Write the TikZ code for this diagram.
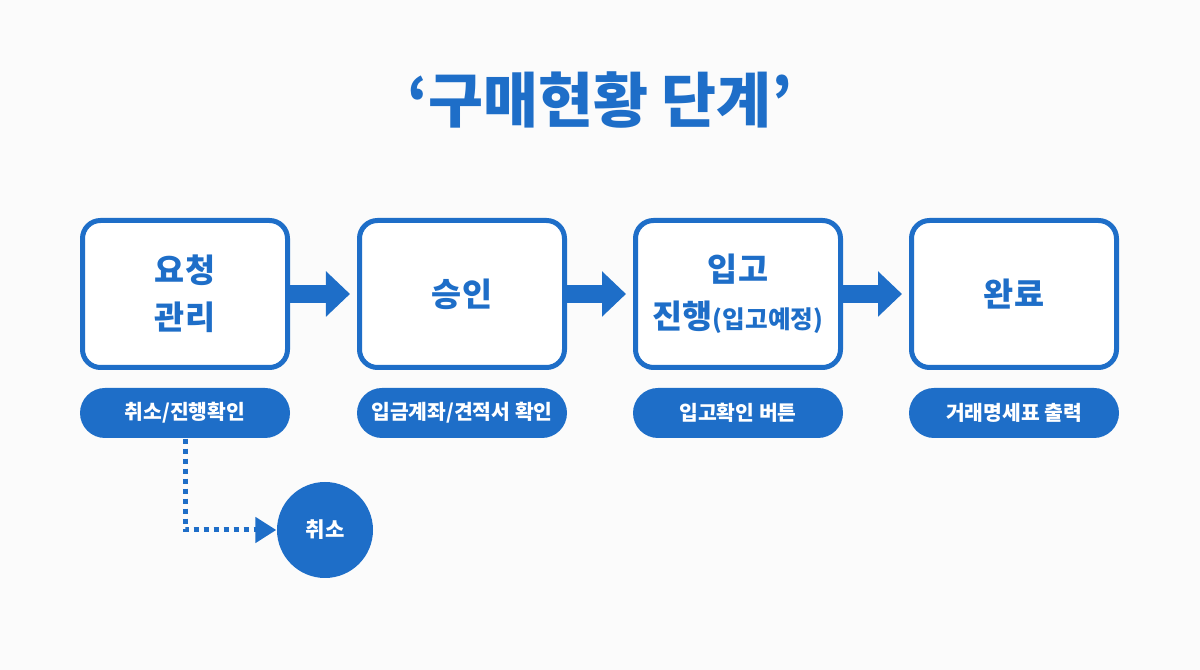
\documentclass[tikz,border=0pt]{standalone}
\usepackage{fontspec}
\newfontfamily\kr{Noto Sans CJK KR}
\usetikzlibrary{arrows.meta, positioning}
\definecolor{flowblue}{RGB}{30,110,200}
\definecolor{paper}{RGB}{251,251,251}

\begin{document}
\begin{tikzpicture}[>=latex, font=\kr\bfseries]
				\tikzstyle{stage} = [draw=flowblue, line width=0.05cm, fill=white, rounded corners=0.18cm, minimum width=2.05cm, minimum height=1.47cm, align=center, text=flowblue, font=\kr\bfseries\fontsize{9.3}{13.5}\selectfont]
				\tikzstyle{pill} = [fill=flowblue, rounded corners=0.25cm, minimum width=2.1cm, minimum height=0.5cm, text=white, font=\kr\bfseries\fontsize{5.8}{7}\selectfont]
				\tikzstyle{cancel} = [fill=flowblue, circle, minimum size=0.96cm, inner sep=0pt, text=white, font=\kr\bfseries\fontsize{6}{7}\selectfont]
				\tikzstyle{flow} = [color=flowblue, line width=0.18cm, -{Triangle[width=0.44cm, length=0.24cm]}, shorten >=0.07cm]
				\tikzstyle{dots} = [color=flowblue, line width=0.05cm, dash pattern=on 0.055cm off 0.045cm, -{Triangle[width=0.25cm, length=0.21cm]}]
				
				\fill[paper] (0, 0) rectangle (12, 6.7);
				\useasboundingbox (0, 0) rectangle (12, 6.7);
				
				\node[text=flowblue, font=\kr\bfseries\fontsize{17}{20}\selectfont] at (6.0, 5.7) (title) {‘구매현황 단계’};
				
				\node[stage] 	at (1.85, 3.76) 	(s1) 	{요청\\관리};
				\node[stage] 	at (4.62, 3.76)		(s2) 	{승인};
				\node[stage] 	at (7.38, 3.76) 	(s3) 	{입고\\진행{\fontsize{7}{13.5}\selectfont(입고예정)}};
				\node[stage] 	at (10.14, 3.76) 	(s4) 	{완료};
				
				\node[pill] 	at (1.85, 2.57) 	(p1) 	{취소/진행확인};
				\node[pill] 	at (4.62, 2.57) 	(p2) 	{입금계좌/견적서 확인};
				\node[pill] 	at (7.38, 2.57) 	(p3) 	{입고확인 버튼};
				\node[pill] 	at (10.14, 2.57) 	(p4) 	{거래명세표 출력};
				
				\node[cancel] 	at (3.25, 1.4) 		(c1) 	{취소};
				
				\path[flow]
				(s1)	edge	(s2)
				(s2)	edge	(s3)
				(s3)	edge	(s4);
				
				\draw[dots] (p1.south) |- (c1);
				\end{tikzpicture}
\end{document}
